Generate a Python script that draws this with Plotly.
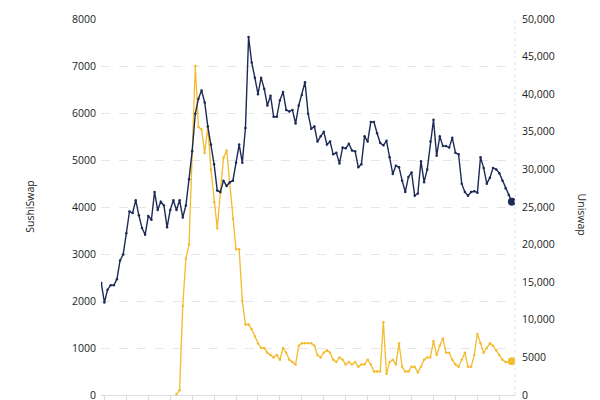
import plotly.graph_objects as go
import pandas as pd

# Daily data, starting 2020-08-01
start_date = "2020-08-01"
n_days = 132

uniswap = [14900, 12300, 14000, 14600, 14600, 15400, 17900, 18700, 21500, 24400,
           24200, 25900, 23900, 22200, 21300, 23800, 23300, 27000, 24600, 25700,
           25200, 22300, 24600, 25900, 24600, 25900, 23600, 25200, 28700, 32400,
           37400, 39400, 40500, 38900, 35700, 33300, 30700, 27200, 27000, 28500,
           27800, 28300, 28500, 30900, 33300, 30900, 35500, 47600, 44200, 42200,
           40000, 42200, 40700, 38500, 39800, 37000, 37000, 39200, 40300, 37900,
           37700, 37900, 36100, 38500, 39900, 41600, 37400, 35400, 35700, 33700,
           34400, 35000, 33300, 33700, 32000, 32200, 30800, 32900, 32800, 33400,
           32500, 32400, 30300, 30700, 34400, 33700, 36300, 36300, 34800, 33500,
           33200, 33800, 31600, 29400, 30500, 30300, 28500, 27000, 29000, 29600,
           26500, 26800, 31100, 28300, 30000, 33700, 36600, 31800, 34400, 33100,
           33100, 32900, 34200, 32200, 32000, 28100, 27000, 26500, 27000, 27100,
           26900, 31600, 30200, 28100, 28900, 30200, 30000, 29500, 28500, 27500,
           26600, 25700]

sushiswap_start = 24  # SushiSwap data begins on day 24
sushiswap = [20, 100, 1900, 2900, 3200, 5200, 7000, 5700, 5650, 5150,
             5700, 4800, 4100, 3550, 4300, 5050, 5200, 4500, 3750, 3100,
             3100, 2000, 1500, 1500, 1400, 1250, 1100, 1000, 1000, 900,
             850, 800, 850, 750, 1000, 900, 750, 700, 650, 1050,
             1100, 1100, 1100, 1100, 1050, 850, 800, 900, 950, 900,
             750, 700, 800, 750, 650, 700, 650, 700, 600, 650,
             650, 750, 650, 500, 500, 500, 1550, 450, 700, 750,
             650, 1100, 600, 500, 500, 600, 600, 480, 600, 750,
             800, 800, 1150, 850, 1050, 1200, 900, 900, 750, 650,
             600, 750, 900, 600, 600, 850, 1300, 1100, 900, 1000,
             1100, 1050, 950, 850, 750, 700, 700, 720]

left_ticks = [0, 1000, 2000, 3000, 4000, 5000, 6000, 7000, 8000]
right_ticks = [0, 5000, 10000, 15000, 20000, 25000, 30000, 35000, 40000, 45000, 50000]
right_tick_labels = ["0", "5000", "10,000", "15,000", "20,000", "25,000", "30,000",
                     "35,000", "40,000", "45,000", "50,000"]

dates = pd.date_range(start_date, periods=n_days, freq="D")
sushi_dates = dates[sushiswap_start:sushiswap_start + len(sushiswap)]

NAVY = "#1c2a55"
GOLD = "#f3bb2e"
TEXT = "#222222"

fig = go.Figure()
fig.add_trace(go.Scatter(x=sushi_dates, y=sushiswap, mode="lines+markers",
                         line=dict(color=GOLD, width=1.3),
                         marker=dict(size=2.5, color=GOLD),
                         name="SushiSwap", yaxis="y"))
fig.add_trace(go.Scatter(x=[sushi_dates[-1]], y=[sushiswap[-1]], mode="markers",
                         marker=dict(size=8, color=GOLD), showlegend=False, yaxis="y"))
fig.add_trace(go.Scatter(x=dates, y=uniswap, mode="lines+markers",
                         line=dict(color=NAVY, width=1.4),
                         marker=dict(size=2.5, color=NAVY),
                         name="Uniswap", yaxis="y2"))
fig.add_trace(go.Scatter(x=[dates[-1]], y=[uniswap[-1]], mode="markers",
                         marker=dict(size=8, color=NAVY), showlegend=False, yaxis="y2"))

font_family = "Open Sans"

# the page body adds an 8px offset, margins compensate for it
fig.update_layout(
    width=600, height=400,
    margin=dict(l=93, r=93, t=4, b=13),
    paper_bgcolor="white", plot_bgcolor="white",
    showlegend=False,
    font=dict(family=font_family, size=10.5, color=TEXT),
    xaxis=dict(
        type="date",
        range=[dates[0] - pd.Timedelta(hours=2), dates[0] + pd.Timedelta(days=132)],
        tick0="2020-08-02", dtick=7 * 86400000,
        showticklabels=False, ticks="outside", ticklen=6, tickcolor="#dddddd",
        showgrid=False, showline=True, linecolor="#dddddd", linewidth=1,
        zeroline=False,
    ),
    yaxis=dict(
        range=[0, 8000], tickvals=left_ticks,
        ticktext=[str(v) for v in left_ticks],
        showgrid=True, gridcolor="#e6e6e6", griddash="dash", gridwidth=1,
        zeroline=False, showline=False, ticks="", ticklabelstandoff=4,
        ticklabeloverflow="allow",
        tickfont=dict(size=10.5, color=TEXT),
    ),
    yaxis2=dict(
        range=[0, 50000], tickvals=right_ticks, ticktext=right_tick_labels,
        overlaying="y", side="right", showgrid=False, zeroline=False,
        showline=False, ticks="", ticklabelstandoff=6,
        ticklabeloverflow="allow",
        tickfont=dict(size=10.5, color=TEXT),
    ),
    shapes=[dict(type="line", xref="paper", yref="paper", x0=1, x1=1, y0=0, y1=1,
                 line=dict(color="#e3e3e3", width=1, dash="dot"))],
    annotations=[
        dict(text="SushiSwap", xref="paper", yref="paper", x=-0.172, y=0.5,
             showarrow=False, textangle=-90, font=dict(size=10.5, color=TEXT),
             xanchor="center", yanchor="middle"),
        dict(text="Uniswap", xref="paper", yref="paper", x=1.164, y=0.48,
             showarrow=False, textangle=90, font=dict(size=10.5, color=TEXT),
             xanchor="center", yanchor="middle"),
    ],
)

fig.write_html("out.html")
